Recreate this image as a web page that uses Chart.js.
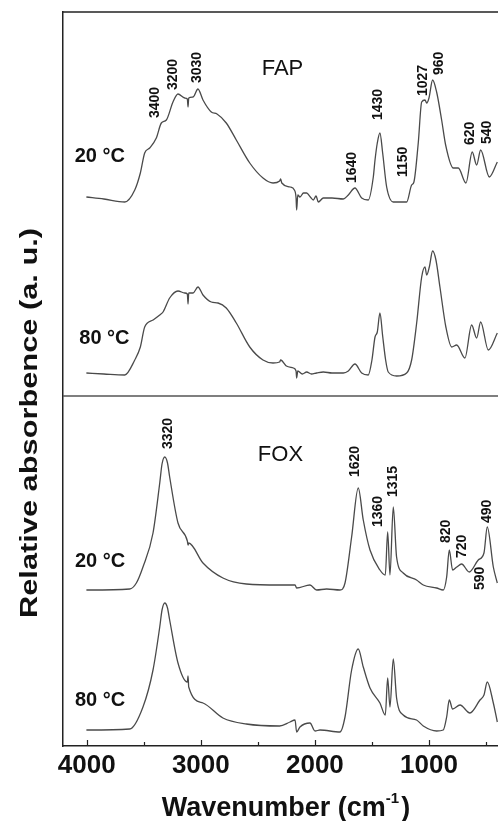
<!DOCTYPE html>
<html>
<head>
<meta charset="utf-8">
<script src="https://cdn.jsdelivr.net/npm/chart.js@4.4.1/dist/chart.umd.min.js"></script>
<style>
  html, body { margin: 0; padding: 0; background: #ffffff; }
  #wrap { width: 498px; height: 821px; }
</style>
</head>
<body>
<div id="wrap"><canvas id="ftirChart" width="498" height="821"></canvas></div>
<script>

/* =========================
   DATA
========================= */

const xTickValues = [4000, 3500, 3000, 2500, 2000, 1500, 1000, 500];

// FAP, 20 °C
const fap20Wn = [
  4003, 3850, 3667, 3579, 3530, 3492, 3448, 3390, 3346, 3302, 3244, 3200,
  3141, 3118, 3112, 3106, 3068, 3025, 2981, 2908, 2858, 2777, 2689, 2571,
  2455, 2367, 2309, 2300, 2290, 2218, 2180, 2165, 2160, 2150, 2131, 2100,
  2072, 2040, 2014, 1990, 1970, 1926, 1850, 1751, 1707, 1649, 1590, 1532,
  1488, 1473, 1453, 1430, 1406, 1371, 1313, 1196, 1152, 1132, 1094, 1064,
  1035, 1020, 1000, 968, 933, 889, 854, 787, 743, 676, 621, 582, 547, 471, 401
];
const fap20Abs = [
  5.49, 5.47, 5.44, 5.56, 5.73, 5.93, 5.98, 6.08, 6.23, 6.26, 6.44, 6.52,
  6.48, 6.47, 6.39, 6.48, 6.49, 6.57, 6.46, 6.34, 6.32, 6.23, 6.06, 5.83,
  5.68, 5.63, 5.65, 5.67, 5.63, 5.59, 5.56, 5.48, 5.36, 5.51, 5.49, 5.53,
  5.53, 5.49, 5.46, 5.50, 5.44, 5.48, 5.48, 5.47, 5.51, 5.58, 5.48, 5.46,
  5.69, 5.86, 6.03, 6.13, 5.93, 5.59, 5.44, 5.44, 5.61, 5.64, 6.03, 6.44,
  6.46, 6.43, 6.48, 6.66, 6.54, 6.26, 6.01, 5.78, 5.78, 5.63, 5.94, 5.81, 5.96, 5.69, 5.84
];

// FAP, 80 °C
const fap80Wn = [
  4003, 3850, 3667, 3579, 3530, 3492, 3419, 3360, 3331, 3273, 3200, 3141,
  3118, 3112, 3106, 3068, 3025, 2981, 2908, 2849, 2777, 2689, 2571, 2455,
  2367, 2309, 2300, 2250, 2189, 2165, 2160, 2150, 2110, 2072, 2030, 1985,
  1926, 1850, 1751, 1707, 1649, 1590, 1532, 1500, 1473, 1453, 1430, 1406,
  1380, 1357, 1283, 1196, 1152, 1108, 1064, 1035, 1020, 997, 968, 939,
  904, 852, 801, 757, 685, 626, 582, 547, 480, 401
];
const fap80Abs = [
  3.73, 3.72, 3.71, 3.86, 3.99, 4.19, 4.26, 4.31, 4.34, 4.48, 4.55, 4.53,
  4.52, 4.42, 4.53, 4.53, 4.59, 4.51, 4.44, 4.43, 4.38, 4.23, 3.99, 3.86,
  3.83, 3.84, 3.86, 3.80, 3.78, 3.75, 3.68, 3.75, 3.72, 3.74, 3.72, 3.73,
  3.74, 3.73, 3.73, 3.75, 3.82, 3.73, 3.71, 3.86, 4.09, 4.14, 4.33, 4.10,
  3.86, 3.74, 3.70, 3.73, 3.86, 4.23, 4.69, 4.79, 4.71, 4.79, 4.95, 4.86,
  4.59, 4.19, 3.99, 4.01, 3.88, 4.21, 4.08, 4.24, 3.96, 4.13
];

// FOX, 20 °C
const fox20Wn = [
  4003, 3623, 3565, 3507, 3419, 3360, 3340, 3316, 3292, 3273, 3200, 3118,
  3112, 3106, 2981, 2806, 2601, 2309, 2174, 2160, 2043, 1985, 1897, 1780,
  1736, 1678, 1620, 1576, 1517, 1430, 1383, 1362, 1342, 1313, 1284, 1226,
  1109, 1050, 933, 875, 845, 822, 793, 757, 714, 647, 568, 518, 489, 436, 401
];
const fox20Abs = [
  1.56, 1.57, 1.63, 1.79, 2.13, 2.63, 2.82, 2.89, 2.83, 2.69, 2.23, 2.05,
  2.01, 2.03, 1.83, 1.68, 1.62, 1.61, 1.61, 1.58, 1.61, 1.56, 1.57, 1.56,
  1.63, 2.09, 2.58, 2.26, 1.96, 1.76, 1.71, 2.14, 1.71, 2.39, 1.89, 1.73,
  1.66, 1.61, 1.58, 1.56, 1.69, 1.96, 1.76, 1.79, 1.82, 1.74, 1.86, 1.93, 2.19, 1.79, 1.63
];

// FOX, 80 °C
const fox80Wn = [
  4003, 3623, 3507, 3419, 3360, 3340, 3316, 3292, 3273, 3200, 3118, 3112,
  3106, 2981, 2806, 2601, 2309, 2218, 2174, 2160, 2131, 2043, 1999, 1955,
  1780, 1736, 1678, 1620, 1576, 1517, 1430, 1383, 1362, 1342, 1313, 1284,
  1226, 1109, 1050, 933, 875, 845, 822, 793, 728, 641, 553, 518, 489, 436, 401
];
const fox80Abs = [
  0.16, 0.17, 0.39, 0.76, 1.19, 1.36, 1.43, 1.38, 1.26, 0.83, 0.64, 0.70,
  0.59, 0.43, 0.28, 0.22, 0.20, 0.24, 0.26, 0.14, 0.19, 0.23, 0.15, 0.16,
  0.14, 0.29, 0.76, 0.97, 0.79, 0.58, 0.43, 0.31, 0.68, 0.39, 0.87, 0.48,
  0.31, 0.26, 0.20, 0.15, 0.16, 0.29, 0.46, 0.37, 0.41, 0.33, 0.46, 0.51, 0.64, 0.43, 0.24
];

// band assignments written above the peaks
const fapPeakNames = ["3400", "3200", "3030", "1640", "1430", "1150", "1027", "960", "620", "540"];
const foxPeakNames = ["3320", "1620", "1360", "1315", "820", "720", "590", "490"];

const sampleNames = ["FAP", "FOX"];
const tempNames = ["20 °C", "80 °C", "20 °C", "80 °C"];

/* =========================
   LAYOUT OF THE ANNOTATIONS
   (x in cm-1, y in a.u.)
========================= */

const panelSplit = 3.5;

const fapPeakSpots = [
  [3401, 6.28], [3241, 6.56], [3031, 6.63], [1672, 5.63], [1444, 6.26],
  [1225, 5.69], [1055, 6.50], [912, 6.71], [635, 6.01], [494, 6.02]
];
const foxPeakSpots = [
  [3285, 2.97], [1649, 2.69], [1444, 2.19], [1313, 2.49],
  [851, 2.03], [705, 1.88], [553, 1.56], [489, 2.23]
];
const sampleSpots = [[2284, 6.71], [2302, 2.85]];
const tempSpots = [[4105, 5.84], [4065, 4.02], [4103, 1.79], [4103, 0.40]];

const FONT = "'Liberation Sans', Arial, Helvetica, sans-serif";
const LINE = "#4a4a4a";

function toPoints(wn, abs) {
  return wn.map((w, i) => ({ x: w, y: abs[i] }));
}

function spectrum(label, wn, abs) {
  return {
    label: label,
    data: toPoints(wn, abs),
    borderColor: LINE,
    borderWidth: 1.3,
    pointRadius: 0,
    fill: false,
    cubicInterpolationMode: "monotone"
  };
}

/* =========================
   DECORATION PLUGIN
========================= */

const spectrumDecor = {

  id: "spectrumDecor",

  afterDraw(chart) {

    const { ctx, chartArea } = chart;
    const xs = chart.scales.x;
    const ys = chart.scales.y;

    ctx.save();

    // top frame and the line between the two samples
    ctx.lineWidth = 1.5;
    ctx.strokeStyle = "#222";
    ctx.beginPath();
    ctx.moveTo(chartArea.left, chartArea.top);
    ctx.lineTo(chartArea.right, chartArea.top);
    ctx.stroke();

    const splitY = ys.getPixelForValue(panelSplit);
    ctx.strokeStyle = "#555";
    ctx.beginPath();
    ctx.moveTo(chartArea.left, splitY);
    ctx.lineTo(chartArea.right, splitY);
    ctx.stroke();

    // inward tick marks
    ctx.strokeStyle = "#222";
    ctx.lineWidth = 1.2;
    ctx.beginPath();
    xs.ticks.forEach(t => {
      const px = Math.round(xs.getPixelForValue(t.value)) + 0.5;
      const len = t.value % 1000 === 0 ? 6 : 4;
      ctx.moveTo(px, chartArea.bottom);
      ctx.lineTo(px, chartArea.bottom - len);
    });
    ctx.stroke();

    // peak labels, rotated
    ctx.fillStyle = "#111";
    ctx.font = "bold 14px " + FONT;
    ctx.textAlign = "left";
    ctx.textBaseline = "middle";

    const peakText = (names, spots) => {
      names.forEach((name, i) => {
        const px = xs.getPixelForValue(spots[i][0]);
        const py = ys.getPixelForValue(spots[i][1]);
        ctx.save();
        ctx.translate(px, py);
        ctx.rotate(-Math.PI / 2);
        ctx.fillText(name, 0, 0);
        ctx.restore();
      });
    };

    peakText(fapPeakNames, fapPeakSpots);
    peakText(foxPeakNames, foxPeakSpots);

    // sample names
    ctx.font = "22px " + FONT;
    ctx.textAlign = "center";
    ctx.textBaseline = "alphabetic";
    sampleNames.forEach((name, i) => {
      ctx.fillText(
        name,
        xs.getPixelForValue(sampleSpots[i][0]),
        ys.getPixelForValue(sampleSpots[i][1])
      );
    });

    // temperatures
    ctx.font = "bold 20px " + FONT;
    ctx.textAlign = "left";
    tempNames.forEach((name, i) => {
      ctx.fillText(
        name,
        xs.getPixelForValue(tempSpots[i][0]),
        ys.getPixelForValue(tempSpots[i][1])
      );
    });

    // x axis title with superscript
    const mainFont = "bold 27px " + FONT;
    const supFont = "bold 15px " + FONT;
    const partA = "Wavenumber (cm";
    const partSup = "-1";
    const partB = ")";

    ctx.font = mainFont;
    const wA = ctx.measureText(partA).width;
    const wB = ctx.measureText(partB).width;
    ctx.font = supFont;
    const wS = ctx.measureText(partSup).width;

    const total = wA + wS + wB + 2;
    let tx = 286 - total / 2;
    const base = 816;

    ctx.font = mainFont;
    ctx.fillText(partA, tx, base);
    tx += wA;
    ctx.font = supFont;
    ctx.fillText(partSup, tx, base - 13);
    tx += wS + 2;
    ctx.font = mainFont;
    ctx.fillText(partB, tx, base);

    // y axis title, stretched along its length like the original
    const yTitle = "Relative absorbence (a. u.)";
    ctx.font = "bold 24px " + FONT;
    const wY = ctx.measureText(yTitle).width;
    ctx.translate(30, 423);
    ctx.rotate(-Math.PI / 2);
    ctx.scale(390 / wY, 1);
    ctx.textAlign = "center";
    ctx.textBaseline = "middle";
    ctx.fillText(yTitle, 0, 0);

    ctx.restore();

  }

};

/* =========================
   CHART
========================= */

const ftirCtx =
  document
    .getElementById("ftirChart")
    .getContext("2d");

const ftirChart =
  new Chart(ftirCtx, {

    type: "line",

    data: {

      datasets: [
        spectrum("FAP 20 °C", fap20Wn, fap20Abs),
        spectrum("FAP 80 °C", fap80Wn, fap80Abs),
        spectrum("FOX 20 °C", fox20Wn, fox20Abs),
        spectrum("FOX 80 °C", fox80Wn, fox80Abs)
      ]

    },

    options: {

      responsive: false,

      animation: false,

      devicePixelRatio: 1,

      layout: {
        padding: { top: 12, right: 0, bottom: 0, left: 0 }
      },

      plugins: {

        legend: { display: false },

        tooltip: { enabled: false }

      },

      scales: {

        x: {

          type: "linear",

          reverse: true,

          min: 395,

          max: 4208,

          afterBuildTicks: scale => {
            scale.ticks = xTickValues.map(v => ({ value: v }));
          },

          afterFit: scale => {
            scale.height = 75;
          },

          grid: { display: false, drawTicks: false },

          border: { display: true, color: "#222", width: 1.5 },

          ticks: {
            autoSkip: false,
            maxRotation: 0,
            padding: 4,
            color: "#111",
            font: { family: FONT, size: 26, weight: "bold" },
            callback: v => (v % 1000 === 0 ? String(v) : "")
          }

        },

        y: {

          type: "linear",

          min: 0,

          max: 7.34,

          afterFit: scale => {
            scale.width = 63;
          },

          grid: { display: false, drawTicks: false },

          border: { display: true, color: "#222", width: 1.5 },

          ticks: { display: false }

        }

      }

    },

    plugins: [spectrumDecor]

  });

</script>
</body>
</html>
